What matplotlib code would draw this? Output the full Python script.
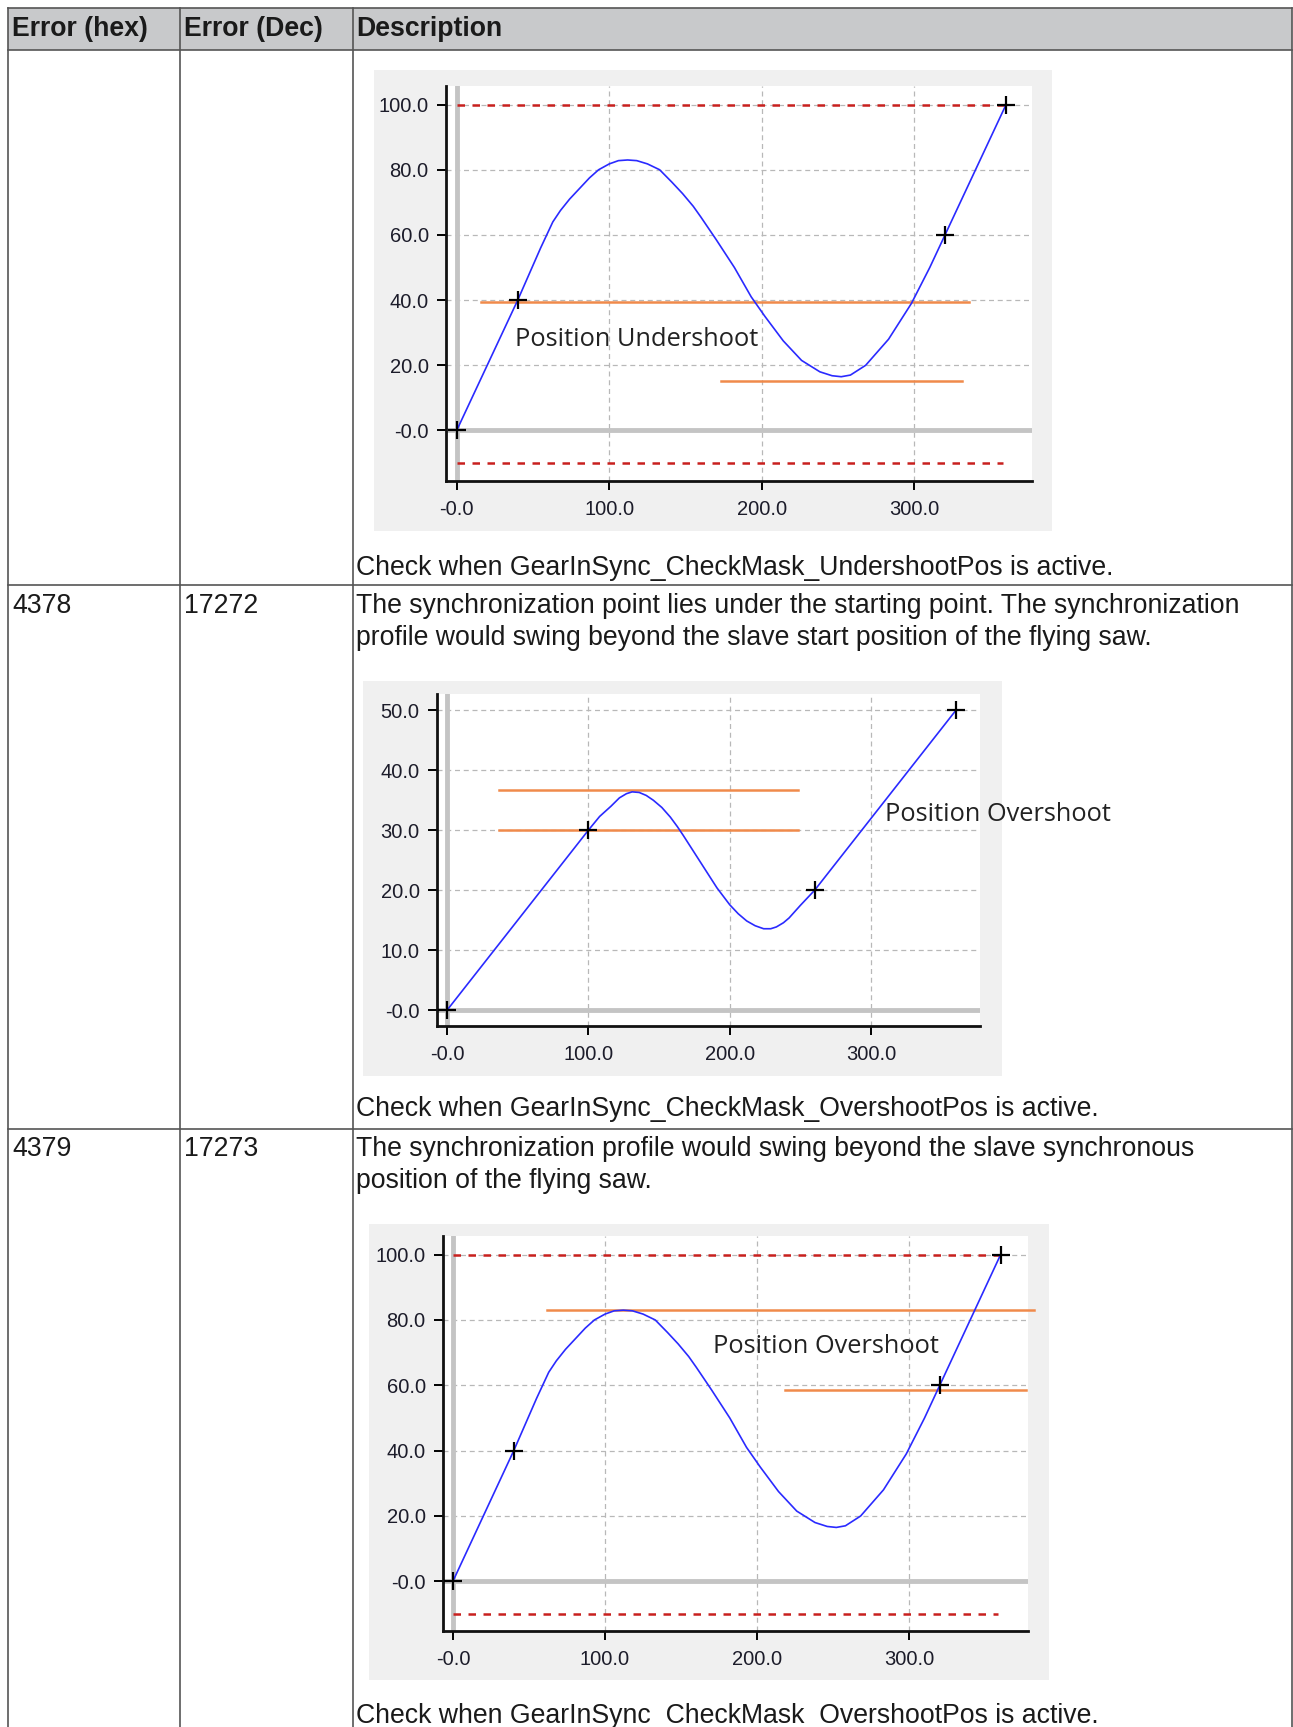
import matplotlib
matplotlib.use("Agg")
import matplotlib.pyplot as plt
from matplotlib.patches import Rectangle

W, H = 1293, 1727

# ---- data ----
headers = ["Error (hex)", "Error (Dec)", "Description"]
codes_hex = ["4378", "4379"]
codes_dec = ["17272", "17273"]
desc_lines = [
    ["The synchronization point lies under the starting point. The synchronization",
     "profile would swing beyond the slave start position of the flying saw."],
    ["The synchronization profile would swing beyond the slave synchronous",
     "position of the flying saw."],
]
check_lines = [
    "Check when GearInSync_CheckMask_UndershootPos is active.",
    "Check when GearInSync_CheckMask_OvershootPos is active.",
    "Check when GearInSync_CheckMask_OvershootPos is active.",
]

# profile used by chart 1 and chart 3 (master pos, slave pos)
prof_x = [0, 20, 40, 55, 63, 68, 74, 80, 87, 93, 100, 106, 112, 118, 125, 133,
          141, 148, 155, 160, 170, 182, 193, 202, 214, 226, 238, 246, 252, 258,
          268, 283, 298, 310, 320, 330, 340, 350, 360]
prof_y = [0, 20, 40, 56, 64, 67.5, 71, 74, 77.5, 80, 81.8, 82.8, 83, 82.8, 81.8, 80,
          76.2, 72.7, 68.8, 65.5, 58.6, 50, 41, 35, 27.5, 21.5, 18, 16.8, 16.5, 17,
          20, 28, 39, 50, 60, 70, 80, 90, 100]
pts13_x = [0, 40, 320, 360]
pts13_y = [0, 40, 60, 100]

# chart 2 profile
prof2_x = [0, 50, 100, 108, 116, 122, 127, 131, 136, 141, 146, 152, 158, 163, 167,
           173, 179, 185, 191, 200, 206, 212, 218, 224, 229, 233, 238, 242, 250,
           260, 300, 330, 360]
prof2_y = [0, 15, 30, 32.3, 34, 35.4, 36.1, 36.4, 36.3, 35.8, 35, 33.8, 32.2, 30.6,
           29.2, 27, 24.8, 22.6, 20.4, 17.6, 16.1, 14.9, 14.1, 13.6, 13.6, 13.9,
           14.6, 15.4, 17.5, 20, 32, 41, 50]
pts2_x = [0, 100, 260, 360]
pts2_y = [0, 30, 20, 50]

# limit / window lines: (y, x_start, x_end)
lim1 = [(100, 0, 360), (-10, 0, 358)]
band1 = [(39.5, 16, 336), (15.3, 173, 331)]
band2 = [(36.7, 37, 248), (30, 37, 248)]
lim3 = [(100, 0, 360), (-10, 0, 358)]
band3 = [(82.9, 62, 382), (58.7, 218, 377)]

fig = plt.figure(figsize=(W / 100, H / 100), dpi=100)
fig.patch.set_facecolor("white")

bg = fig.add_axes([0, 0, 1, 1])
bg.set_xlim(0, W)
bg.set_ylim(H, 0)
bg.axis("off")
bg.set_zorder(-10)

tfont = dict(family="Liberation Sans", fontsize=19.2, color="#1a1a1a", va="center")

# header
bg.add_patch(Rectangle((7.5, 7.5), W - 9, 42, facecolor="#c8c9cb", edgecolor="none"))
for x, t in zip([12, 184, 356], headers):
    bg.text(x, 29, t, fontweight="bold", **tfont)

# table grid
col_x = [7.5, 179.5, 352.5, 1291.5]
for x in col_x:
    bg.plot([x, x], [7.5, H], color="#555555", lw=1.2)
for y in [7.5, 49.5, 585, 1129]:
    bg.plot([7.5, 1291.5], [y, y], color="#555555", lw=1.2)

# body text
for y, t in zip([568, 1109, 1716], check_lines):
    bg.text(356, y, t, **tfont)
for i, ys in enumerate([(606, 638), (1149, 1181)]):
    bg.text(12, ys[0], codes_hex[i], **tfont)
    bg.text(184, ys[0], codes_dec[i], **tfont)
    for y, t in zip(ys, desc_lines[i]):
        bg.text(356, y, t, **tfont)

# grey panels behind charts
for (l, t, r, b) in [(374, 70, 1052, 531), (363, 681, 1002, 1076), (369, 1224, 1049, 1680)]:
    bg.add_patch(Rectangle((l, t), r - l, b - t, facecolor="#f0f0f0", edgecolor="none"))


def make_axes(l, t, r, b):
    return fig.add_axes([l / W, 1 - b / H, (r - l) / W, (b - t) / H])


def style(ax, xlim, ylim, yticks):
    ax.set_facecolor("white")
    ax.set_xlim(*xlim)
    ax.set_ylim(*ylim)
    ax.set_xticks([0, 100, 200, 300])
    ax.set_xticklabels(["-0.0", "100.0", "200.0", "300.0"])
    ax.set_yticks(yticks)
    ax.set_yticklabels(["-0.0"] + ["%.1f" % v for v in yticks[1:]])
    for s in ["top", "right"]:
        ax.spines[s].set_visible(False)
    for s in ["left", "bottom"]:
        ax.spines[s].set_linewidth(2)
        ax.spines[s].set_color("#111111")
    ax.tick_params(direction="out", length=6.5, width=1.4, labelsize=14.5,
                   labelcolor="#1c1c2a")
    ax.tick_params(axis="y", pad=6)
    ax.tick_params(axis="x", pad=7)
    for lab in ax.get_xticklabels() + ax.get_yticklabels():
        lab.set_family("Liberation Sans")
    ax.grid(True, color="#b8b8b8", lw=0.9, ls=(0, (4, 3)))
    ax.set_axisbelow(True)
    ax.axhline(0, color="#c4c4c4", lw=3.5, zorder=1)
    ax.axvline(0, color="#c4c4c4", lw=3.5, zorder=1)


def draw(ax, px, py, mx, my, limits, bands, label, lx, ly):
    for y, x0, x1 in limits:
        ax.plot([x0, x1], [y, y], color="#c8201e", lw=1.8, ls=(0, (3, 3)), zorder=2)
    for y, x0, x1 in bands:
        ax.plot([x0, x1], [y, y], color="#f08a4b", lw=1.8, zorder=3, clip_on=False)
    ax.plot(px, py, color="#2a2aff", lw=1.2, zorder=4)
    ax.plot(mx, my, ls="none", marker="+", ms=13, mew=1.6, color="black", zorder=5,
            clip_on=False)
    ax.text(lx, ly, label, family="Open Sans", fontsize=18.3, color="#222222",
            va="center", ha="left", zorder=6, clip_on=False)


ax1 = make_axes(446, 86, 1032, 481)
style(ax1, (-7, 377), (-15.5, 105.7), [0, 20, 40, 60, 80, 100])
draw(ax1, prof_x, prof_y, pts13_x, pts13_y, lim1, band1, "Position Undershoot", 38, 28)

ax2 = make_axes(437, 694, 980, 1026)
style(ax2, (-7, 377), (-2.6, 52.7), [0, 10, 20, 30, 40, 50])
draw(ax2, prof2_x, prof2_y, pts2_x, pts2_y, [], band2, "Position Overshoot", 310, 32.6)

ax3 = make_axes(443, 1236, 1028, 1631)
style(ax3, (-6.5, 378), (-15.2, 105.7), [0, 20, 40, 60, 80, 100])
draw(ax3, prof_x, prof_y, pts13_x, pts13_y, lim3, band3, "Position Overshoot", 171, 72)

fig.savefig("out.png", dpi=100)
